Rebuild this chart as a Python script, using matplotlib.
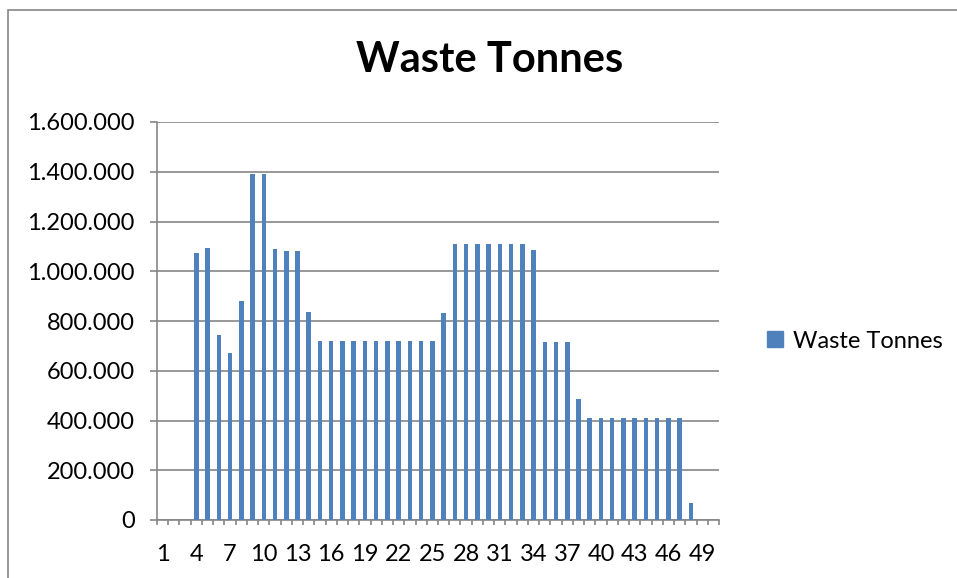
import matplotlib.pyplot as plt
import matplotlib.ticker as mticker
from matplotlib.patches import Rectangle, Patch

# Waste tonnes per category (1..50)
categories = list(range(1, 51))
waste_tonnes = (
    [0, 0, 0,
     1075000, 1092000, 745000, 672000, 880000, 1390000, 1390000,
     1090000, 1081000, 1081000, 836000]
    + [721000] * 11
    + [832000]
    + [1108000] * 7
    + [1086000]
    + [716000] * 3
    + [486000]
    + [411000] * 9
    + [68000, 0, 0]
)
y_ticks = list(range(0, 1600001, 200000))
x_labels = [str(c) if (c - 1) % 3 == 0 else '' for c in categories]

BAR_COLOR = '#4F81BD'
GRID_COLOR = '#868686'

plt.rcParams['font.family'] = ['Lato', 'DejaVu Sans']

fig = plt.figure(figsize=(9.57, 5.78), dpi=100)
ax = fig.add_axes([157 / 957, 1 - 520 / 578, 562 / 957, 398 / 578])

# chart area border
fig.patches.append(Rectangle((8 / 957, -0.05), 960 / 957, 1 - 10 / 578 + 0.05,
                             transform=fig.transFigure, fill=False,
                             edgecolor='#868686', linewidth=1.2))

x = [c - 1 for c in categories]
ax.bar(x, waste_tonnes, width=0.4, color=BAR_COLOR, zorder=3)

ax.set_xlim(-0.5, len(categories) - 0.5)
ax.set_ylim(0, 1600000)
ax.set_yticks(y_ticks)
ax.yaxis.set_major_formatter(mticker.FuncFormatter(lambda v, p: f'{int(v):,}'.replace(',', '.')))
ax.yaxis.grid(True, color=GRID_COLOR, linewidth=1.2, zorder=0)
ax.set_axisbelow(True)

ax.set_xticks(x)
ax.set_xticklabels(x_labels)
ax.set_xticks([i - 0.5 for i in range(len(categories) + 1)], minor=True)
ax.tick_params(axis='x', which='major', length=0, pad=17, labelsize=17)
ax.tick_params(axis='x', which='minor', length=3.6, width=1.2, color=GRID_COLOR, direction='out')
ax.tick_params(axis='y', length=5, width=1.2, color=GRID_COLOR, pad=11, labelsize=17)

for side in ('top', 'right'):
    ax.spines[side].set_visible(False)
for side in ('left', 'bottom'):
    ax.spines[side].set_color(GRID_COLOR)
    ax.spines[side].set_linewidth(1.2)

fig.text(490 / 957, 1 - 60 / 578, 'Waste Tonnes', ha='center', va='center',
         fontsize=30, fontweight='bold')

fig.legend(handles=[Patch(color=BAR_COLOR, label='Waste Tonnes')],
           loc='center left', bbox_to_anchor=(746 / 957, 1 - 341 / 578),
           frameon=False, fontsize=17, handlelength=0.65, handleheight=0.65,
           handletextpad=0.45)

fig.savefig('out.png', dpi=100)
